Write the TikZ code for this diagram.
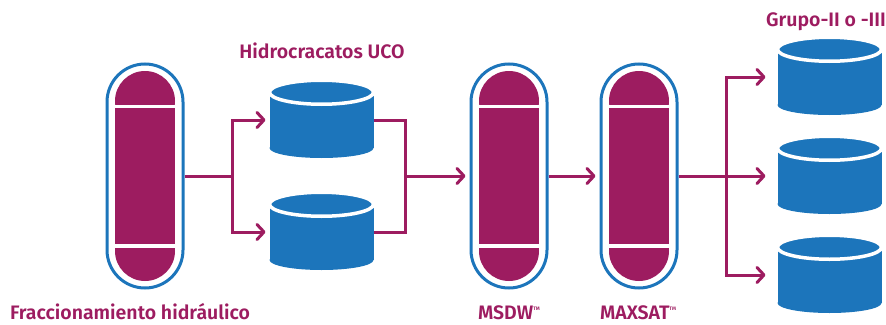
\documentclass[tikz,border=0pt]{standalone}
\usepackage{fontspec}
\setmainfont{Fira Sans}[BoldFont={Fira Sans SemiBold}]
\usetikzlibrary{arrows.meta}
\definecolor{purp}{RGB}{157,28,96}
\definecolor{tblue}{RGB}{28,117,187}
\newcommand\tmark{\raisebox{9.5pt}{\fontsize{5}{5}\selectfont TM}}
\begin{document}
\begin{tikzpicture}[x=1pt,y=-1pt,
 colbox/.style={draw=tblue, line width=3pt, fill=white, rounded corners=38pt, minimum width=76pt, minimum height=224pt, inner sep=0pt},
 cylbox/.style={minimum width=104pt, minimum height=76pt, inner sep=0pt, outer sep=0pt},
 flow/.style={draw=purp, line width=3pt},
 arr/.style={flow, -{Straight Barb[length=7pt,width=15pt,line cap=round,line join=round]}, shorten >=4pt},
 lbl/.style={text=purp, font=\bfseries\fontsize{19.5}{21}\selectfont, inner sep=0pt, anchor=base},
 pics/column/.style={code={
   \node[colbox] (-n) {};
   \begin{scope}
     \clip (-30,-116) rectangle (30,-72);
     \fill[purp] (0,-75) circle (30pt);
   \end{scope}
   \fill[purp] (-30,-68) rectangle (30,68);
   \begin{scope}
     \clip (-30,72) rectangle (30,116);
     \fill[purp] (0,75) circle (30pt);
   \end{scope}
 }},
 pics/cyl/.style={code={
   \node[cylbox] (-n) {};
   \fill[tblue] (-52,-27.75) rectangle (52,28);
   \fill[tblue] (0,28) ellipse [x radius=52pt, y radius=10pt];
   \draw[white, line width=3.5pt, fill=tblue] (0,-27.75) ellipse [x radius=52pt, y radius=12pt];
 }}
]
\useasboundingbox (0,0) rectangle (886,324);

\pic (c1) at (145,176) {column};
\pic (c2) at (509,176) {column};
\pic (c3) at (639,176) {column};
\pic (h1) at (321.5,120) {cyl};
\pic (h2) at (321.5,232) {cyl};
\pic (g1) at (829.5,77) {cyl};
\pic (g2) at (829.5,176) {cyl};
\pic (g3) at (829.5,275) {cyl};

\coordinate (s1) at (232,176);
\coordinate (j1) at (405,176);
\coordinate (s2) at (726,176);

\draw[flow] (c1-n.east) -- (s1);
\draw[arr] (s1) |- (h1-n.west);
\draw[arr] (s1) |- (h2-n.west);
\draw[flow] (h1-n.east) -| (j1);
\draw[flow] (h2-n.east) -| (j1);
\draw[arr] (j1) -- (c2-n.west);
\draw[arr] (c2-n.east) -- (c3-n.west);
\draw[flow] (c3-n.east) -- (s2);
\draw[arr, shorten >=12pt] (s2) |- (g1-n.west);
\draw[arr, shorten >=12pt] (s2) -- (g2-n.west);
\draw[arr, shorten >=12pt] (s2) |- (g3-n.west);

\node[lbl] (t1) at (322,58) {Hidrocracatos UCO};
\node[lbl] (t2) at (130,319.5) {Fraccionamiento hidráulico};
\node[lbl] (t3) at (509,319.5) {MSDW\tmark};
\node[lbl] (t4) at (638,319.5) {MAXSAT\tmark};
\node[lbl] (t5) at (826,27) {Grupo-II o -III};
\end{tikzpicture}
\end{document}
